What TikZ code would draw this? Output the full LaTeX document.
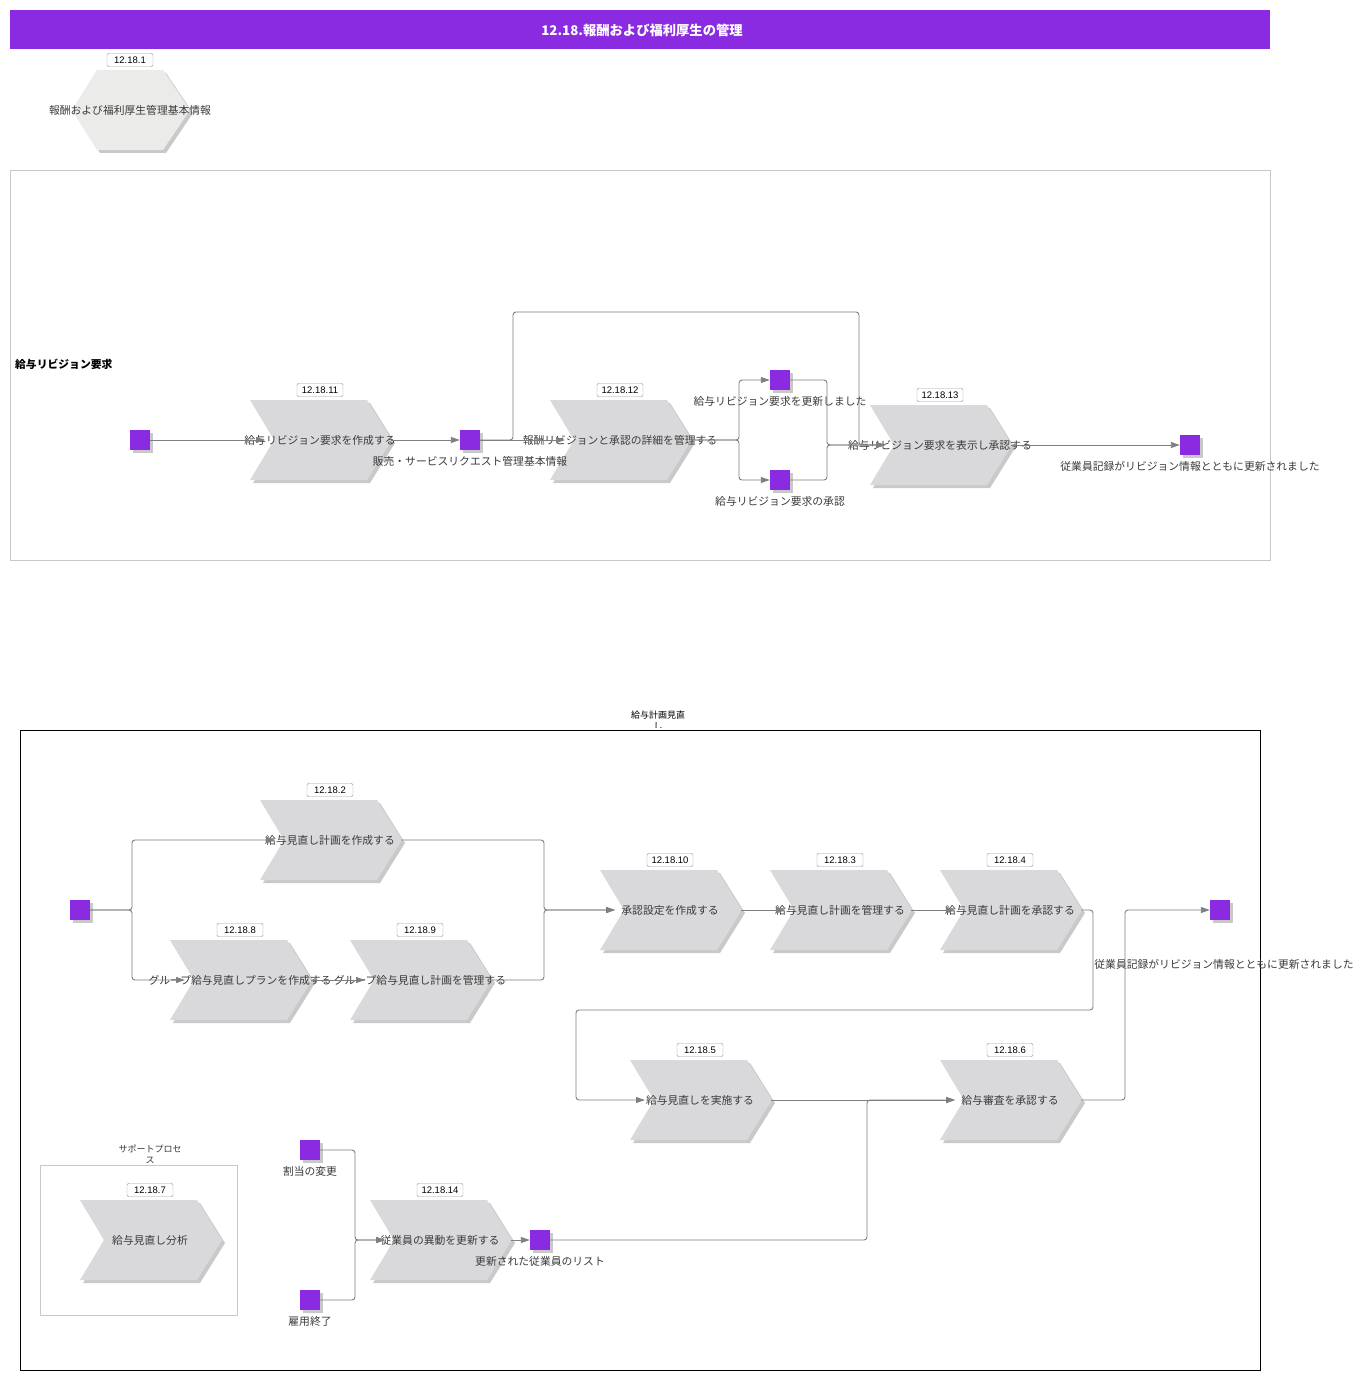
\documentclass[tikz,border=0pt]{standalone}
\usepackage{fontspec}
\setmainfont{Noto Sans CJK JP}
\newfontfamily\tagfont{Liberation Sans}
\usetikzlibrary{arrows.meta,shadows}
\definecolor{purp}{HTML}{8A2BE2}
\definecolor{chevfill}{HTML}{D9D9DB}
\definecolor{hexfill}{HTML}{EBEBEA}
\definecolor{shad}{HTML}{C9C9C9}
\definecolor{conn}{HTML}{7F7F7F}
\definecolor{txt}{HTML}{3A3A3A}
\definecolor{lanegray}{HTML}{C8C8C8}
\tikzset{
  conn/.style={draw=conn, line width=0.9pt, rounded corners=3pt},
  arr/.style={conn, -{Triangle[length=9pt,width=6pt]}},
  jtext/.style={font=\fontsize{10.8}{12}\selectfont, text=txt, inner sep=0pt},
  smalltext/.style={font=\fontsize{9}{10}\selectfont, text=txt, inner sep=0pt},
  tag/.style={draw=gray!75, rounded corners=1.5pt, fill=white, text=black,
    font=\tagfont\fontsize{9.5}{11}\selectfont, minimum width=46pt, minimum height=13.5pt, inner sep=1pt},
  evt/.style={fill=purp, minimum size=20pt, inner sep=0pt,
    drop shadow={shadow xshift=2.5pt, shadow yshift=-2.5pt, fill=shad, opacity=1}},
  pics/chev/.style n args={2}{code={
    \fill[shad] (-67,-37) -- (50,-37) -- (75,3) -- (50,43) -- (-67,43) -- (-43,3) -- cycle;
    \fill[chevfill] (-70,-40) -- (47,-40) -- (72,0) -- (47,40) -- (-70,40) -- (-46,0) -- cycle;
    \node[tag] (-tag) at (0,-50) {#1};
    \node[jtext] (-txt) at (0,0) {#2};
    \coordinate (-in) at (-55,0);
    \coordinate (-out) at (71,0);
  }},
}
\begin{document}
\begin{tikzpicture}[x=1pt,y=-1pt]
\useasboundingbox[fill=white] (0,0) rectangle (1367,1380);

% title
\fill[purp] (10,10) rectangle (1270,49);
\node[text=white, font=\fontsize{13.3}{15}\selectfont\bfseries, inner sep=0pt] (title) at (642,30) {12.18.報酬および福利厚生の管理};

% hexagon
\fill[shad] (75,113) -- (100,73) -- (166,73) -- (193,113) -- (166,153) -- (100,153) -- cycle;
\fill[hexfill] (72,110) -- (97,70) -- (163,70) -- (190,110) -- (163,150) -- (97,150) -- cycle;
\node[tag] (h1tag) at (130,60) {12.18.1};
\node[jtext] (h1) at (130,110) {報酬および福利厚生管理基本情報};

% upper lane
\draw[lanegray, line width=0.8pt] (10,170) rectangle (1270,560);
\node[jtext, font=\fontsize{10.8}{12}\selectfont\bfseries, text=black, anchor=west] (lane1) at (15,364) {給与リビジョン要求};

\pic (c11) at (320,440) {chev={12.18.11}{給与リビジョン要求を作成する}};
\pic (c12) at (620,440) {chev={12.18.12}{報酬リビジョンと承認の詳細を管理する}};
\pic (c13) at (940,445) {chev={12.18.13}{給与リビジョン要求を表示し承認する}};

\node[evt] (e1) at (140,440) {};
\node[evt] (e2) at (470,440) {};
\node[evt] (e3) at (780,380) {};
\node[evt] (e4) at (780,480) {};
\node[evt] (e5) at (1190,445) {};
\node[jtext] (e2l) at (470,461) {販売・サービスリクエスト管理基本情報};
\node[jtext] (e3l) at (780,401) {給与リビジョン要求を更新しました};
\node[jtext] (e4l) at (780,501) {給与リビジョン要求の承認};
\node[jtext] (e5l) at (1190,466) {従業員記録がリビジョン情報とともに更新されました};

\draw[arr] (e1.east) -- (c11-in);
\draw[arr] (c11-out) -- (e2.west);
\draw[arr] (e2.east) -- (c12-in);
\draw[arr] (e2.east) -- (513,440) -- (513,312) -- (859,312) -- (859,445) -- (c13-in);
\draw[arr] (c12-out) -- (739,440) |- (e3.west);
\draw[arr] (c12-out) -- (739,440) |- (e4.west);
\draw[arr] (e3.east) -- (827,380) |- (c13-in);
\draw[arr] (e4.east) -- (827,480) |- (c13-in);
\draw[arr] (c13-out) -- (e5.west);

% lower box
\draw[black, line width=0.8pt] (20,730) rectangle (1260,1370);
\begin{scope}
\clip (560,700) rectangle (760,727);
\node[smalltext, text=black] (lane2a) at (658,715) {給与計画見直};
\node[smalltext, text=black] (lane2b) at (658,726) {し};
\end{scope}

\pic (c2) at (330,840) {chev={12.18.2}{給与見直し計画を作成する}};
\pic (c8) at (240,980) {chev={12.18.8}{グループ給与見直しプランを作成する}};
\pic (c9) at (420,980) {chev={12.18.9}{グループ給与見直し計画を管理する}};
\pic (c10) at (670,910) {chev={12.18.10}{承認設定を作成する}};
\pic (c3) at (840,910) {chev={12.18.3}{給与見直し計画を管理する}};
\pic (c4) at (1010,910) {chev={12.18.4}{給与見直し計画を承認する}};
\pic (c5) at (700,1100) {chev={12.18.5}{給与見直しを実施する}};
\pic (c6) at (1010,1100) {chev={12.18.6}{給与審査を承認する}};
\pic (c14) at (440,1240) {chev={12.18.14}{従業員の異動を更新する}};

% support process box
\draw[lanegray, line width=0.8pt] (40,1165) rectangle (237,1315);
\begin{scope}
\clip (60,1135) rectangle (240,1162);
\node[smalltext] (sup1) at (150,1149) {サポートプロセ};
\node[smalltext] (sup2) at (150,1160) {ス};
\end{scope}
\pic (c7) at (150,1240) {chev={12.18.7}{給与見直し分析}};

\node[evt] (ea) at (80,910) {};
\node[evt] (eb) at (1220,910) {};
\node[evt] (ec) at (310,1150) {};
\node[evt] (ed) at (310,1300) {};
\node[evt] (ee) at (540,1240) {};
\node[jtext] (ebl) at (1224,964) {従業員記録がリビジョン情報とともに更新されました};
\node[jtext] (ecl) at (310,1171) {割当の変更};
\node[jtext] (edl) at (310,1321) {雇用終了};
\node[jtext] (eel) at (540,1261) {更新された従業員のリスト};

\draw[arr] (ea.east) -- (132,910) |- (c2-in);
\draw[arr] (ea.east) -- (132,910) |- (c8-in);
\draw[arr] (c8-out) -- (c9-in);
\draw[arr] (c2-out) -- (544,840) |- (c10-in);
\draw[arr] (c9-out) -- (544,980) |- (c10-in);
\draw[arr] (c10-out) -- (c3-in);
\draw[arr] (c3-out) -- (c4-in);
\draw[arr] (c4-out) -- (1093,910) -- (1093,1010) -- (576,1010) |- (c5-in);
\draw[arr] (c5-out) -- (c6-in);
\draw[arr] (ee.east) -- (867,1240) |- (c6-in);
\draw[arr] (c6-out) -- (1125,1100) |- (eb.west);
\draw[arr] (ec.east) -- (355,1150) |- (c14-in);
\draw[arr] (ed.east) -- (355,1300) |- (c14-in);
\draw[arr] (c14-out) -- (ee.west);
\end{tikzpicture}
\end{document}
